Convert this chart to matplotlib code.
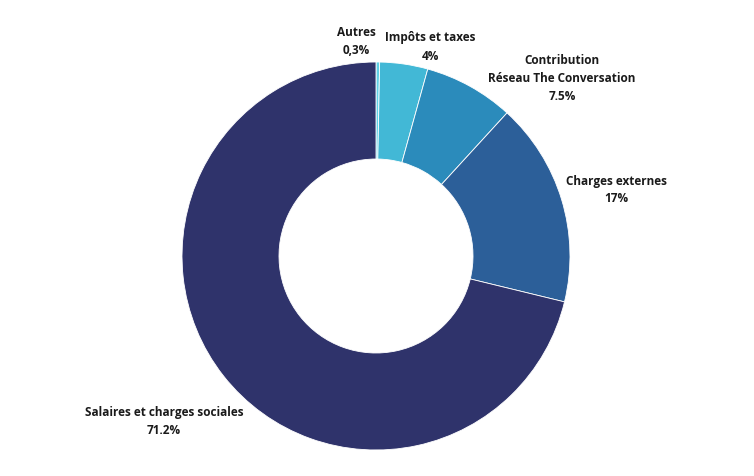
import matplotlib
matplotlib.use("Agg")
import matplotlib.pyplot as plt

labels = ["Autres", "Impôts et taxes", "Contribution\nRéseau The Conversation", "Charges externes", "Salaires et charges sociales"]
values = [0.3, 4, 7.5, 17, 71.2]
pct_labels = ["0,3%", "4%", "7.5%", "17%", "71.2%"]
colors = ["#5fd0e6", "#42b8d6", "#2b8bbb", "#2c5f99", "#2f336b"]

W, H = 754, 477
fig = plt.figure(figsize=(W/100, H/100), dpi=100)
cx, cy, r = 376, 257, 194
ax = fig.add_axes([(cx-r)/W, (H-cy-r)/H, 2*r/W, 2*r/H])
ax.pie(values, colors=colors, startangle=90, counterclock=False,
       wedgeprops=dict(width=0.5, edgecolor="white", linewidth=0.6))
ax.set_xlim(-1, 1); ax.set_ylim(-1, 1); ax.set_aspect("equal")
ax.axis("off")

pos = [(356, 42), (430, 47), (562, 79), (616, 190), (164, 422)]
for (x, y), lab, p in zip(pos, labels, pct_labels):
    fig.text(x/W, 1-y/H, lab + "\n" + p, ha="center", va="center",
             fontsize=8.5, fontweight="bold", family="Open Sans",
             color="#1a1a1a", linespacing=1.5)

fig.savefig("out.png", dpi=100, facecolor="white")
